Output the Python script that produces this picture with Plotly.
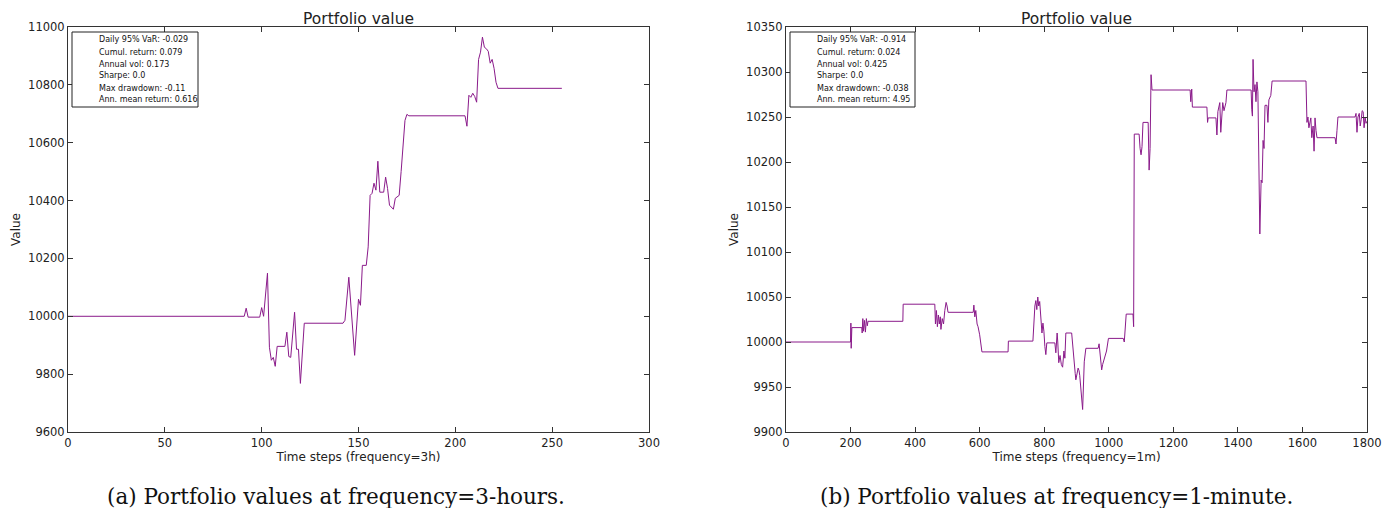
import plotly.graph_objects as go

# ---- data: (a) 3-hour frequency ----
steps_a = [0, 91, 92, 93, 99, 100, 101, 103, 104, 105, 106, 107, 108, 112, 113, 114, 115, 117, 118, 119,
           120, 122, 142, 143, 145, 148, 150, 151, 152, 154, 155, 156, 157, 158, 159, 160, 161, 163, 164,
           165, 166, 167, 168, 169, 171, 172, 174, 175, 176, 205, 206, 207, 208, 209, 210, 211, 212, 213,
           214, 215, 216, 217, 218, 219, 220, 221, 222, 255]
value_a = [10000, 10000, 10028, 9997, 9997, 10030, 10000, 10149, 9893, 9848, 9858, 9827, 9896, 9896, 9945,
           9861, 9858, 10014, 9886, 9886, 9768, 9976, 9976, 9986, 10135, 9865, 10059, 10038, 10176, 10176,
           10240, 10418, 10425, 10460, 10436, 10536, 10429, 10429, 10481, 10442, 10384, 10377, 10370, 10408,
           10418, 10500, 10677, 10698, 10693, 10693, 10657, 10764, 10757, 10771, 10760, 10740, 10888, 10913,
           10965, 10930, 10925, 10916, 10875, 10888, 10857, 10809, 10788, 10788]

# ---- data: (b) 1-minute frequency ----
steps_b = [0, 200, 201, 202, 204, 207, 235, 236, 238, 240, 243, 246, 249, 252, 254, 362, 363, 461, 463, 466,
           469, 472, 475, 478, 480, 484, 488, 492, 496, 499, 502, 580, 582, 585, 588, 592, 595, 600, 604, 607,
           688, 689, 765, 768, 771, 774, 777, 780, 783, 786, 790, 793, 796, 799, 802, 805, 808, 833, 836, 840,
           842, 845, 849, 853, 857, 861, 864, 867, 885, 887, 890, 893, 896, 898, 901, 905, 908, 910, 919, 924,
           929, 967, 970, 972, 975, 978, 981, 985, 989, 993, 999, 1045, 1048, 1050, 1054, 1075, 1077, 1079,
           1094, 1097, 1100, 1103, 1106, 1122, 1125, 1128, 1131, 1134, 1252, 1254, 1257, 1259, 1304, 1306,
           1308, 1332, 1335, 1338, 1344, 1347, 1353, 1357, 1363, 1366, 1441, 1443, 1445, 1447, 1450, 1453,
           1456, 1459, 1462, 1468, 1472, 1475, 1478, 1481, 1484, 1490, 1493, 1496, 1502, 1506, 1611, 1614,
           1617, 1620, 1626, 1629, 1633, 1636, 1639, 1642, 1645, 1701, 1704, 1707, 1710, 1763, 1766, 1769,
           1772, 1776, 1779, 1782, 1785, 1788, 1791, 1794, 1797, 1799]
value_b = [10000, 10000, 10021, 9993, 10016, 10016, 10016, 10010, 10026, 10012, 10024, 10011, 10026, 10018,
           10023, 10023, 10042, 10042, 10020, 10035, 10017, 10030, 10020, 10028, 10014, 10026, 10020, 10035,
           10044, 10040, 10033, 10033, 10041, 10028, 10035, 10020, 10017, 10008, 9995, 9989, 9989, 10001,
           10001, 10025, 10040, 10046, 10036, 10050, 10040, 10045, 10030, 10010, 10021, 10012, 9995, 9986,
           9999, 9999, 9988, 10010, 10000, 9977, 9985, 9975, 9972, 9990, 9982, 10010, 10010, 10000, 9988,
           9975, 9965, 9958, 9965, 9971, 9968, 9963, 9925, 9978, 9993, 9993, 9998, 9991, 9985, 9969, 9975,
           9980, 9986, 9990, 10004, 10004, 10000, 10008, 10031, 10031, 10017, 10231, 10231, 10215, 10208,
           10217, 10244, 10244, 10191, 10215, 10297, 10280, 10280, 10267, 10281, 10261, 10261, 10244, 10249,
           10249, 10230, 10256, 10266, 10233, 10266, 10257, 10266, 10280, 10280, 10258, 10251, 10314, 10278,
           10286, 10267, 10289, 10278, 10120, 10180, 10177, 10224, 10215, 10263, 10263, 10244, 10269, 10274,
           10290, 10290, 10244, 10250, 10238, 10249, 10227, 10240, 10212, 10249, 10235, 10227, 10227, 10220,
           10235, 10250, 10250, 10254, 10233, 10250, 10254, 10240, 10247, 10257, 10256, 10238, 10250, 10243,
           10245]

stats_a = ["Daily 95% VaR: -0.029", "Cumul. return: 0.079", "Annual vol: 0.173", "Sharpe: 0.0",
           "Max drawdown: -0.11", "Ann. mean return: 0.616"]
stats_b = ["Daily 95% VaR: -0.914", "Cumul. return: 0.024", "Annual vol: 0.425", "Sharpe: 0.0",
           "Max drawdown: -0.038", "Ann. mean return: 4.95"]

W, H = 1383, 508
LINE = "#8a1a8a"
FONT = "DejaVu Sans"
TXT = "#222"

fig = go.Figure()
fig.add_trace(go.Scatter(x=steps_a, y=value_a, mode="lines", line=dict(color=LINE, width=1.0),
                         xaxis="x", yaxis="y", showlegend=False, hoverinfo="skip"))
fig.add_trace(go.Scatter(x=steps_b, y=value_b, mode="lines", line=dict(color=LINE, width=1.0),
                         xaxis="x2", yaxis="y2", showlegend=False, hoverinfo="skip"))

def px_x(p):
    return p / W

def px_y(p):
    return 1 - p / H

ax_common = dict(showline=True, linecolor="#333", linewidth=1, mirror="ticks", ticks="inside",
                 ticklen=5, tickcolor="#333", showgrid=False, zeroline=False, automargin=False,
                 tickformat="d", tickfont=dict(family=FONT, size=11.5, color=TXT))
lab_font = dict(family=FONT, size=12, color=TXT)
ydom = [px_y(432), px_y(27)]
fig.update_layout(
    width=W, height=H, margin=dict(l=0, r=0, t=0, b=0, autoexpand=False),
    paper_bgcolor="white", plot_bgcolor="white",
    xaxis=dict(domain=[px_x(68), px_x(649)], range=[0, 300], dtick=50, anchor="y",
               title=dict(text="Time steps (frequency=3h)", font=lab_font, standoff=0), **ax_common),
    yaxis=dict(domain=ydom, range=[9600, 11000], dtick=200, anchor="x",
               title=dict(text="Value", font=lab_font, standoff=4), **ax_common),
    xaxis2=dict(domain=[px_x(786), px_x(1367)], range=[0, 1800], dtick=200, anchor="y2",
                title=dict(text="Time steps (frequency=1m)", font=lab_font, standoff=0), **ax_common),
    yaxis2=dict(domain=ydom, range=[9900, 10350], dtick=50, anchor="x2",
                title=dict(text="Value", font=lab_font, standoff=4), **ax_common),
)

ann = []
shapes = []
for cx, text in [((68 + 649) / 2, "Portfolio value"), ((786 + 1367) / 2, "Portfolio value")]:
    ann.append(dict(x=px_x(cx), y=px_y(19), xref="paper", yref="paper", text=text, showarrow=False,
                    font=dict(family=FONT, size=15.5, color=TXT), xanchor="center", yanchor="middle"))

for (bx0, bx1, tx), stats in [((72, 198, 97), stats_a), ((790, 915, 815), stats_b)]:
    shapes.append(dict(type="rect", xref="paper", yref="paper", x0=px_x(bx0), x1=px_x(bx1),
                       y0=px_y(107), y1=px_y(32), line=dict(color="#222", width=1), fillcolor="white"))
    for i, s in enumerate(stats):
        ann.append(dict(x=px_x(tx), y=px_y(40 + i * 12), xref="paper", yref="paper", text=s, showarrow=False,
                        font=dict(family=FONT, size=8, color="#111"), xanchor="left", yanchor="middle"))

for cx, text in [(336, "(a) Portfolio values at frequency=3-hours."),
                 (1056, "(b) Portfolio values at frequency=1-minute.")]:
    ann.append(dict(x=px_x(cx), y=px_y(496), xref="paper", yref="paper", text=text, showarrow=False,
                    font=dict(family="DejaVu Serif", size=21.5, color="#111"), xanchor="center", yanchor="middle"))

fig.update_layout(annotations=ann, shapes=shapes)
fig.write_html("out.html", config={"displayModeBar": False},
               post_script="document.body.style.margin='0';document.body.style.overflow='hidden';")
